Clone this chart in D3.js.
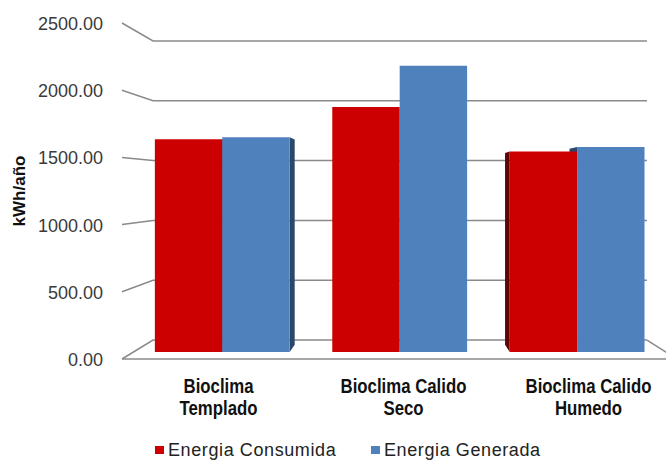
<!DOCTYPE html>
<html>
<head>
<meta charset="utf-8">
<script src="https://cdn.jsdelivr.net/npm/d3@7"></script>
<style>
  html, body { margin: 0; padding: 0; background: #fff; }
  svg { display: block; }
</style>
</head>
<body>
<svg id="chart" width="666" height="460"></svg>
<script>
// ---- data ----
const categories = ["Bioclima Templado", "Bioclima Calido Seco", "Bioclima Calido Humedo"];
const categoryLines = [["Bioclima", "Templado"], ["Bioclima Calido", "Seco"], ["Bioclima Calido", "Humedo"]];
const seriesNames = ["Energia Consumida", "Energia Generada"];
const consumida = [1650, 1900, 1555];
const generada = [1665, 2220, 1590];
const yTicks = [0, 500, 1000, 1500, 2000, 2500];
const yTickLabels = ["0.00", "500.00", "1000.00", "1500.00", "2000.00", "2500.00"];
const yTitle = "kWh/año";
const colors = ["#CC0000", "#4F81BD"];
const sideColors = ["#5e0505", "#2a476c"];

// ---- layout ----
const W = 666, H = 460;
const svg = d3.select("#chart");
const VP = { x: 404, y: 186.5 };           // vanishing point
const S_WALL = 0.89, S_BAR_F = 0.959, S_BAR_B = 0.917;
const proj = (x, y, s) => [VP.x + (x - VP.x) * s, VP.y + (y - VP.y) * s];

const x = d3.scaleBand().domain(categories).range([122, 677]).paddingInner(0.24).paddingOuter(0.12);
const x1 = d3.scaleBand().domain(seriesNames).range([0, x.bandwidth()]);
const y = d3.scaleLinear().domain([0, 2500]).range([359, 23]);
const line = d3.line();

const [xL, xR] = x.range();
const gridColor = "#8a8a8a";

// walls / gridlines
const grid = svg.append("g");
yTicks.forEach(t => {
  grid.append("path")
    .attr("d", line([proj(xL, y(t), 1), proj(xL, y(t), S_WALL), proj(xR, y(t), S_WALL)]))
    .attr("fill", "none").attr("stroke", gridColor).attr("stroke-width", 1.5);
});
// floor front edge and right edge
grid.append("path")
  .attr("d", line([proj(xL, y(0), 1), proj(xR, y(0), 1)]))
  .attr("fill", "none").attr("stroke", gridColor).attr("stroke-width", 1.5);
grid.append("path")
  .attr("d", line([proj(xR, y(0), S_WALL), proj(xR, y(0), 1)]))
  .attr("fill", "none").attr("stroke", gridColor).attr("stroke-width", 1.5);

// bars
const bars = [];
categories.forEach((c, i) => {
  [consumida[i], generada[i]].forEach((v, j) => {
    const x0 = x(c) + x1(seriesNames[j]);
    const x2 = x0 + x1.bandwidth();
    bars.push({ x0, x2, top: y(v), bot: y(0), j });
  });
});
const gSides = svg.append("g");
const gFronts = svg.append("g");
bars.forEach(b => {
  if (b.x2 < VP.x) {
    gSides.append("path").attr("d", line([proj(b.x2, b.top, S_BAR_F), proj(b.x2, b.top, S_BAR_B),
      proj(b.x2, b.bot, S_BAR_B), proj(b.x2, b.bot, S_BAR_F)]) + "Z").attr("fill", sideColors[b.j]);
  }
  if (b.x0 > VP.x) {
    gSides.append("path").attr("d", line([proj(b.x0, b.top, S_BAR_F), proj(b.x0, b.top, S_BAR_B),
      proj(b.x0, b.bot, S_BAR_B), proj(b.x0, b.bot, S_BAR_F)]) + "Z").attr("fill", sideColors[b.j]);
  }
  if (b.top > VP.y) {
    gSides.append("path").attr("d", line([proj(b.x0, b.top, S_BAR_F), proj(b.x2, b.top, S_BAR_F),
      proj(b.x2, b.top, S_BAR_B), proj(b.x0, b.top, S_BAR_B)]) + "Z").attr("fill", sideColors[b.j]);
  }
  gFronts.append("path").attr("d", line([proj(b.x0, b.top, S_BAR_F), proj(b.x2, b.top, S_BAR_F),
    proj(b.x2, b.bot, S_BAR_F), proj(b.x0, b.bot, S_BAR_F)]) + "Z").attr("fill", colors[b.j]);
});

// y tick labels
svg.append("g").selectAll("text").data(yTicks).join("text")
  .attr("x", 103).attr("y", d => y(d) + 1)
  .attr("text-anchor", "end").attr("dominant-baseline", "central")
  .attr("font-family", "'Liberation Sans', Arial, sans-serif").attr("font-size", 18)
  .attr("fill", "#3a3a3a")
  .text((d, i) => yTickLabels[i]);

// y title
svg.append("text")
  .attr("transform", "translate(24.5,191) rotate(-90)")
  .attr("text-anchor", "middle")
  .attr("font-family", "'Liberation Sans', Arial, sans-serif").attr("font-size", 17).attr("font-weight", "bold")
  .attr("fill", "#111")
  .text(yTitle);

// category labels (condensed bold, like Arial Narrow)
const cat = svg.append("g");
categories.forEach((c, i) => {
  const cx = x(c) + x.bandwidth() / 2 + 4;
  categoryLines[i].forEach((ln, k) => {
    cat.append("text")
      .attr("transform", `translate(${cx},${393 + k * 21.5}) scale(0.8,1)`)
      .attr("text-anchor", "middle")
      .attr("font-family", "'Liberation Sans', Arial, sans-serif")
      .attr("font-size", 21).attr("font-weight", "bold").attr("fill", "#111")
      .text(ln);
  });
});

// legend
const legendX = [155, 371];
const leg = svg.append("g");
seriesNames.forEach((s, i) => {
  leg.append("rect").attr("x", legendX[i]).attr("y", 446).attr("width", 9).attr("height", 8).attr("fill", colors[i]);
  leg.append("text").attr("x", legendX[i] + 13).attr("y", 455.5)
    .attr("font-family", "'Liberation Sans', Arial, sans-serif").attr("font-size", 18)
    .attr("letter-spacing", 0.6).attr("fill", "#222").text(s);
});
</script>
</body>
</html>
